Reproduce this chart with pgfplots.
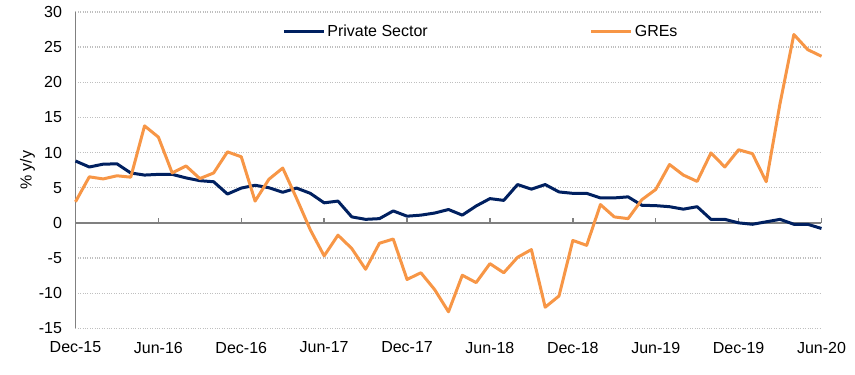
\documentclass[border=0pt]{standalone}
\usepackage{pgfplots}
\pgfplotsset{compat=1.18}
\usepackage{pgfplotstable}
\usepackage{fontspec}
\setmainfont{Liberation Sans}
\definecolor{navy}{HTML}{002060}
\definecolor{orng}{HTML}{F79646}
\definecolor{axgray}{HTML}{808080}
\definecolor{grd}{HTML}{BFBFBF}
\pgfplotstableread{
x priv gre
0 8.8 3.0
1 7.95 6.55
2 8.35 6.25
3 8.4 6.7
4 7.1 6.5
5 6.8 13.8
6 6.9 12.2
7 6.9 7.1
8 6.4 8.1
9 6.0 6.3
10 5.85 7.1
11 4.1 10.1
12 4.95 9.4
13 5.35 3.1
14 5.0 6.2
15 4.35 7.8
16 4.95 3.5
17 4.2 -1.0
18 2.85 -4.7
19 3.1 -1.75
20 0.85 -3.65
21 0.5 -6.6
22 0.6 -2.9
23 1.7 -2.3
24 0.95 -8.05
25 1.1 -7.1
26 1.4 -9.5
27 1.9 -12.65
28 1.1 -7.45
29 2.4 -8.5
30 3.45 -5.8
31 3.2 -7.1
32 5.45 -4.9
33 4.8 -3.8
34 5.45 -12.0
35 4.4 -10.4
36 4.2 -2.5
37 4.2 -3.2
38 3.55 2.6
39 3.55 0.85
40 3.7 0.6
41 2.5 3.3
42 2.45 4.75
43 2.3 8.3
44 1.95 6.8
45 2.3 5.9
46 0.5 9.95
47 0.5 7.95
48 0.0 10.4
49 -0.2 9.85
50 0.15 5.85
51 0.5 17.0
52 -0.2 26.8
53 -0.2 24.65
54 -0.8 23.7
}\datatable
\begin{document}
\begin{tikzpicture}
\begin{axis}[
  at={(0pt,0pt)}, anchor=south west,
  scale only axis, width=746pt, height=316.3pt,
  xmin=0, xmax=54, ymin=-15, ymax=30,
  xtick={0,6,...,54},
  xticklabels={Dec-15,Jun-16,Dec-16,Jun-17,Dec-17,Jun-18,Dec-18,Jun-19,Dec-19,Jun-20},
  ytick={-15,-10,...,30},
  axis y line*=left, axis x line*=bottom,
  x axis line style={draw=none},
  y axis line style={axgray, line width=1.5pt},
  major tick length=0pt,
  tick style={draw=none},
  ymajorgrids, grid style={grd, dotted, line width=1.3pt},
  tick label style={font=\fontsize{16}{18}\selectfont},
  /pgf/number format/assume math mode=true,
  yticklabel style={xshift=-10pt},
  xticklabel style={yshift=-10pt},
  ylabel={\% y/y}, ylabel style={font=\fontsize{16}{18}\selectfont, yshift=-3pt},
  legend columns=2,
  legend style={draw=none, fill=none, at={(0.277,0.937)}, anchor=west, inner sep=0pt,
    font=\fontsize{16}{18}\selectfont,
    /tikz/every even column/.append style={column sep=160pt}},
  legend image code/.code={\draw[#1] (0pt,0pt) -- (40pt,0pt);},
  clip=false,
]
\draw[axgray, line width=1.5pt] (axis cs:0,0) -- (axis cs:54,0);
\pgfplotsinvokeforeach{6,12,18,24,30,36,42,48,54}{
  \draw[axgray, line width=1.5pt] (axis cs:#1,0) -- ++(0pt,4.5pt);
}
\addplot[navy, line width=3pt, line join=round] table[x=x, y=priv] {\datatable};
\addlegendentry{Private Sector}
\addplot[orng, line width=3pt, line join=round] table[x=x, y=gre] {\datatable};
\addlegendentry{GREs}
\end{axis}
\path[use as bounding box] (-75.5pt,-46.7pt) rectangle (779.5pt,328.3pt);
\end{tikzpicture}
\end{document}
